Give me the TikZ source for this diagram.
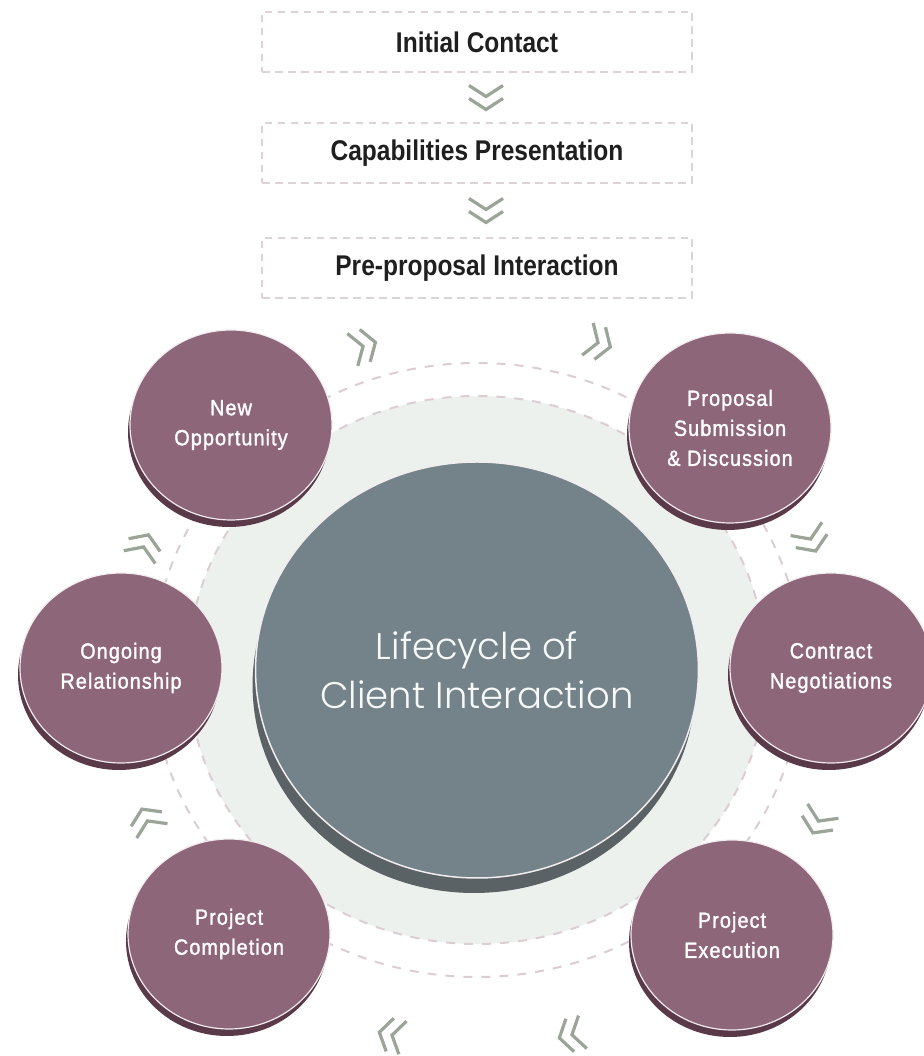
\documentclass[tikz,border=0pt]{standalone}
\usepackage{fontspec}
\usetikzlibrary{shapes.geometric,shadows,calc}
\setmainfont{Liberation Sans}
% condensed-looking faces for the step labels
\newfontfamily\boxfont[FakeStretch=0.86]{Liberation Sans}
\newfontfamily\stepfont[FakeStretch=0.9,LetterSpace=5,FakeBold=1.5]{Liberation Sans}
% light geometric face for the hub title, with fallbacks
\IfFontExistsTF{Poppins Light}{\newfontfamily\hubfont{Poppins Light}}{%
  \IfFontExistsTF{Lato Light}{\newfontfamily\hubfont{Lato Light}}{%
    \newfontfamily\hubfont{DejaVu Sans}}}

\definecolor{mauve}{HTML}{8E6679}
\definecolor{mauvedark}{HTML}{5A3A49}
\definecolor{slate}{HTML}{738389}
\definecolor{slatedark}{HTML}{5B6265}
\definecolor{halo}{HTML}{EDF1EE}
\definecolor{ringdash}{HTML}{DCCDD4}
\definecolor{chevcol}{HTML}{9AA598}
\definecolor{boxdash}{HTML}{DDD2D6}
\definecolor{ink}{HTML}{1F1F1F}
\definecolor{rim}{HTML}{F1ECEE}

\tikzset{
  stagebox/.style={draw=boxdash, line width=2pt, dash pattern=on 7.5pt off 5.5pt,
    minimum width=430, minimum height=60, inner sep=0pt,
    font=\boxfont\bfseries\fontsize{28.5}{30}\selectfont, text=ink},
  stage/.style={ellipse, minimum width=202, minimum height=190, inner sep=0pt,
    fill=mauve, draw=rim, line width=1.2pt, text=white, align=center,
    font=\stepfont\fontsize{22}{30}\selectfont,
    drop shadow={shadow xshift=-2pt, shadow yshift=-7pt, fill=mauvedark, opacity=1}},
  hub/.style={ellipse, minimum width=436, minimum height=416, inner sep=0pt,
    fill=slate, draw=rim, line width=1.5pt, text=white!94!slate, align=center,
    font=\hubfont\fontsize{37}{49}\selectfont,
    drop shadow={shadow xshift=-3pt, shadow yshift=-15pt, fill=slatedark, opacity=1}},
  ringline/.style={draw=ringdash, line width=2pt, dash pattern=on 9pt off 9pt},
  chevline/.style={draw=chevcol, line width=3.2pt},
  dchev/.pic={
    \draw[chevline] (-12,17) -- (-1,0) -- (-12,-17)
                    (1,17) -- (12,0) -- (1,-17);
  }
}

\begin{document}
\begin{tikzpicture}[x=1pt,y=1pt]
\fill[white] (0,0) rectangle (923,1056);
\useasboundingbox (0,0) rectangle (923,1056);

% pale halo and the two dashed orbits
\fill[halo] (477,386) ellipse [x radius=289, y radius=274];
\draw[ringline] (477,386) ellipse [x radius=289, y radius=274];
\draw[ringline] (477,386) ellipse [x radius=325, y radius=307];

% hub
\node[hub] (hub) at (477,386) {Lifecycle of\\Client Interaction};

% stages around the hub
\node[stage] (newopp)   at (231,631) {New\\Opportunity};
\node[stage] (proposal) at (730,628) {Proposal\\Submission\\\& Discussion};
\node[stage] (ongoing)  at (121,388) {Ongoing\\Relationship};
\node[stage] (contract) at (831,388) {Contract\\Negotiations};
\node[stage] (complete) at (229,122) {Project\\Completion};
\node[stage] (execute)  at (732,121) {Project\\Execution};

% pre-engagement steps
\node[stagebox] (initial) at (477,1014) {Initial Contact};
\node[stagebox] (capab)   at (477,903)  {Capabilities Presentation};
\node[stagebox] (prepro)  at (477,788)  {Pre-proposal Interaction};

\pic[rotate=-90] at ($($(initial.south)!0.5!(capab.north)$)+(9,0)$) {dchev};
\pic[rotate=-90] at ($($(capab.south)!0.5!(prepro.north)$)+(9,0)$) {dchev};

% direction markers along the orbit
\pic[rotate=18]   at (364,710) {dchev};
\pic[rotate=-19]  at (599,713) {dchev};
\pic[rotate=-67]  at (811,516) {dchev};
\pic[rotate=-115] at (818,234) {dchev};
\pic[rotate=-166] at (571,21)  {dchev};
\pic[rotate=167]  at (391,21)  {dchev};
\pic[rotate=115]  at (147,236) {dchev};
\pic[rotate=68]   at (144,510) {dchev};
\end{tikzpicture}
\end{document}
